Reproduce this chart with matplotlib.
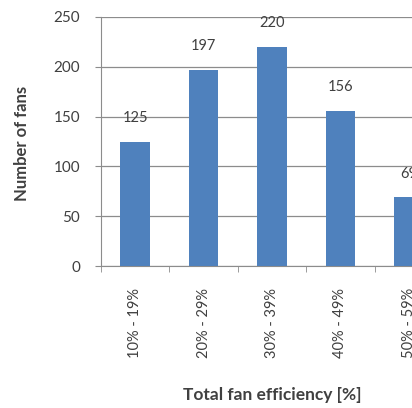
import matplotlib.pyplot as plt
from matplotlib.ticker import FixedLocator

# data
categories = ["10% - 19%", "20% - 29%", "30% - 39%", "40% - 49%", "50% - 59%"]
fans = [125, 197, 220, 156, 69]
yticks = [0, 50, 100, 150, 200, 250]

plt.rcParams['font.family'] = ['Lato', 'DejaVu Sans']
txt = '#404040'
grid = '#8c8c8c'

fig = plt.figure(figsize=(4.12, 4.08), dpi=100)
# the chart is clipped on the right in the reference, so the axes run past the edge
ax = fig.add_axes([101/412, 1-266/408, 342/412, 249/408])

x = list(range(len(categories)))
bars = ax.bar(x, fans, width=0.43, color='#4F81BD', zorder=3)
for xi, v in zip(x, fans):
	ax.annotate(str(v), (xi, v), xytext=(0, 17), textcoords='offset points',
		ha='center', va='center', fontsize=10.5, color=txt)

ax.set_xlim(-0.5, len(categories) - 0.5)
ax.set_ylim(0, 250)
ax.set_yticks(yticks)
ax.yaxis.grid(True, color=grid, linewidth=0.9, zorder=0)
ax.set_xticks(x)
ax.set_xticklabels(categories, rotation=90, fontsize=10.5, color=txt)
ax.xaxis.set_minor_locator(FixedLocator([i - 0.5 for i in range(len(categories) + 1)]))
ax.tick_params(axis='x', which='major', length=0, pad=16)
ax.tick_params(axis='x', which='minor', length=4, color=grid, direction='out')
ax.tick_params(axis='y', length=4, color=grid, direction='out', pad=11, labelsize=11, labelcolor=txt)

for s in ['top', 'right']:
	ax.spines[s].set_visible(False)
for s in ['left', 'bottom']:
	ax.spines[s].set_color(grid)

fig.text(22/412, 1-143/408, "Number of fans", rotation=90, ha='center', va='center',
	fontsize=12, fontweight='bold', color=txt)
fig.text(272/412, 1-395/408, "Total fan efficiency [%]", ha='center', va='center',
	fontsize=12.5, fontweight='bold', color=txt)

fig.savefig("out.png", dpi=100)
